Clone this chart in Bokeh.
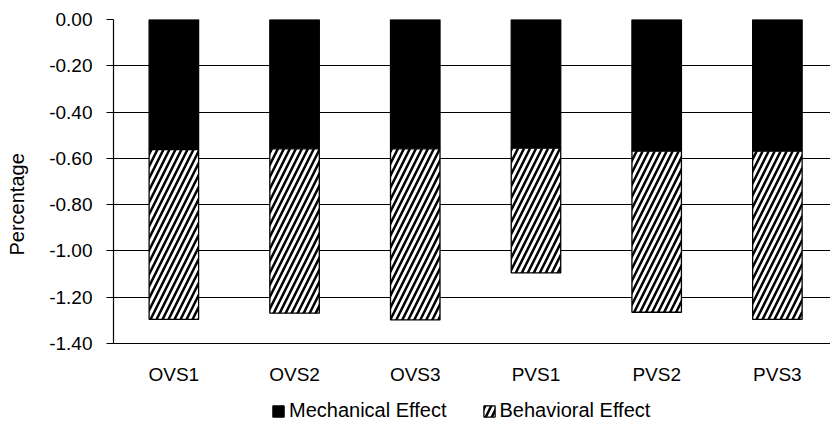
from bokeh.plotting import figure
from bokeh.models import (ColumnDataSource, Range1d, FixedTicker, NumeralTickFormatter,
                          Legend, LegendItem, Title)
from bokeh.embed import file_html
from bokeh.resources import INLINE

categories = ["OVS1", "OVS2", "OVS3", "PVS1", "PVS2", "PVS3"]
mechanical = [-0.562, -0.559, -0.559, -0.556, -0.569, -0.569]
behavioral = [-0.734, -0.710, -0.739, -0.539, -0.696, -0.727]
y_ticks = [0.0, -0.2, -0.4, -0.6, -0.8, -1.0, -1.2, -1.4]
series_names = ["Mechanical Effect", "Behavioral Effect"]
y_title = "Percentage"

x = list(range(1, len(categories) + 1))
total = [m + b for m, b in zip(mechanical, behavioral)]
src = ColumnDataSource(dict(x=x, mech_top=[0.0] * len(x), mech_bot=mechanical,
                            beh_top=mechanical, beh_bot=total))

FONT = "Liberation Sans"
Y_MIN = min(y_ticks)
# frame extends below the value axis so that the legend can sit inside it
FRAME_H = 403
AXIS_H = 324
y_lo = Y_MIN * FRAME_H / AXIS_H

p = figure(frame_width=717, frame_height=FRAME_H, output_backend="svg",
           toolbar_location=None,
           x_range=Range1d(0.5, 6.44), y_range=Range1d(y_lo, 0.0),
           min_border_left=113, min_border_top=19, min_border_right=0,
           min_border_bottom=0)
p.outline_line_color = None
p.background_fill_color = "white"
p.border_fill_color = "white"

r1 = p.vbar(x="x", top="mech_top", bottom="mech_bot", width=0.41, source=src,
            fill_color="black", line_color="black", line_width=1.3)
r2 = p.vbar(x="x", top="beh_top", bottom="beh_bot", width=0.41, source=src,
            fill_color="white", line_color="black", line_width=1.3,
            hatch_pattern="/", hatch_color="black", hatch_weight=2.5, hatch_scale=12)

# x axis sits at the bottom of the value range
p.xaxis.fixed_location = Y_MIN
p.xaxis.ticker = FixedTicker(ticks=x)
p.xaxis.major_label_overrides = {i: c for i, c in zip(x, categories)}
p.xaxis.major_tick_out = 0
p.xaxis.major_tick_in = 0
p.xaxis.minor_tick_line_color = None
p.xaxis.axis_line_color = "black"
p.xaxis.axis_line_width = 1.2
p.xaxis.major_label_standoff = 20
p.xaxis.major_label_text_font = FONT
p.xaxis.major_label_text_font_size = "19px"
p.xaxis.major_label_text_color = "black"

p.yaxis.bounds = (Y_MIN, 0.0)
p.yaxis.ticker = FixedTicker(ticks=y_ticks)
p.yaxis.formatter = NumeralTickFormatter(format="0.00")
p.yaxis.major_tick_out = 7
p.yaxis.major_tick_in = 0
p.yaxis.minor_tick_line_color = None
p.yaxis.axis_line_color = "black"
p.yaxis.axis_line_width = 1.2
p.yaxis.major_tick_line_color = "black"
p.yaxis.major_tick_line_width = 1.2
p.yaxis.major_label_standoff = 14
p.yaxis.major_label_text_font = FONT
p.yaxis.major_label_text_font_size = "19px"
p.yaxis.major_label_text_color = "black"
# blank spacer label widens the axis panel so the title sits further left
p.yaxis.axis_label = " "
p.yaxis.axis_label_text_font_size = "10px"
p.yaxis.axis_label_standoff = 5

title = Title(text=y_title, align="left", offset=167, standoff=0,
              text_font=FONT, text_font_size="20px", text_font_style="normal",
              text_color="black")
p.add_layout(title, "left")

p.xgrid.grid_line_color = None
p.ygrid.ticker = FixedTicker(ticks=y_ticks)
p.ygrid.grid_line_color = "black"
p.ygrid.grid_line_width = 1.2

legend = Legend(items=[LegendItem(label=series_names[0], renderers=[r1]),
                       LegendItem(label=series_names[1], renderers=[r2])],
                orientation="horizontal", location=(158, 0),
                label_text_font=FONT, label_text_font_size="20px",
                label_text_color="black", label_height=22,
                glyph_width=14, glyph_height=14, label_standoff=4, spacing=35,
                padding=0, margin=0, border_line_color=None,
                background_fill_alpha=0)
p.add_layout(legend, "center")

open("out.html", "w").write(file_html(p, INLINE))
